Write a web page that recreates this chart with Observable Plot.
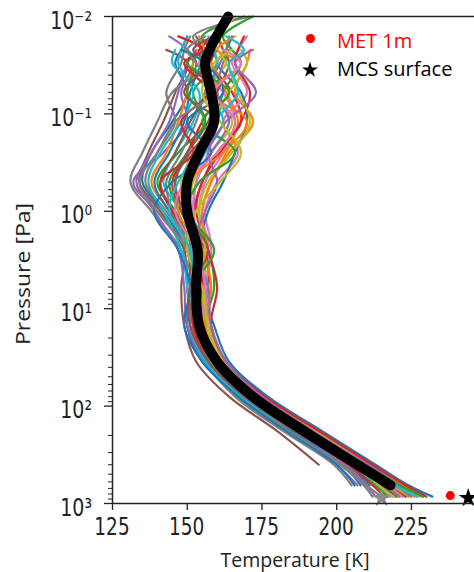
<!DOCTYPE html>
<html>
<head>
<meta charset="utf-8">
<script src="https://cdn.jsdelivr.net/npm/d3@7"></script>
<script src="https://cdn.jsdelivr.net/npm/@observablehq/plot@0.6"></script>
<style>
  html, body { margin: 0; padding: 0; background: #fff; overflow: hidden; }
  #chart svg { display: block; }
</style>
</head>
<body>
<div id="chart"></div>
<script>
// Pressure levels [Pa]
const pressure = [0.01, 0.016, 0.022, 0.03, 0.06, 0.12, 0.25, 0.5, 1, 2.5, 6, 15, 35, 80, 180, 400, 650, 850];

// Individual temperature profiles [K] at the levels above (null = no data)
const tempProfiles = [
  [null,150,148,146,150,145,138,135,142,150,151,150,156,168,185,202,208,null],
  [null,null,171,170,166,172,164,158,155,157,155,158,163,176,193,211,222,228],
  [169,155,158,160,152,156,147,140,146,152,154,153,158,170,186,204,213,217],
  [null,null,160,158,165,168,160,155,152,150,156,156,162,174,190,209,219,224],
  [null,144,150,152,148,150,142,132,140,149,150,152,157,169,185,200,207,null],
  [null,null,143,150,146,142,137,134,141,149,148,149,153,164,180,194,null,null],
  [null,170,167,165,170,162,167,160,156,158,152,157,162,173,190,208,217,221],
  [171,152,155,157,145,140,135,131,138,148,152,151,156,166,182,199,205,null],
  [166,161,162,163,157,165,158,152,151,153,158,154,159,172,190,209,219,225],
  [null,null,146,145,154,152,146,142,148,155,152,150,157,171,188,205,214,218],
  [null,165,163,160,168,170,166,162,157,154,155,159,164,177,195,213,224,232],
  [null,null,154,152,150,147,143,138,144,150,153,152,158,170,187,206,216,220],
  [172,162,165,168,162,160,155,150,150,157,159,156,161,173,191,209,218,223],
  [null,158,154,150,160,155,150,145,148,156,157,155,161,174,192,210,220,226],
  [null,null,164,162,160,164,158,153,152,151,154,157,163,175,192,211,221,227],
  [null,153,155,156,156,151,146,141,145,152,150,153,158,171,188,206,215,219],
  [null,null,157,154,162,166,162,156,154,158,156,155,160,172,189,207,216,222],
  [null,151,149,148,143,146,140,136,143,151,155,152,157,167,184,201,209,212],
  [null,null,168,170,164,158,152,148,149,155,154,156,162,175,193,210,220,229],
  [null,157,159,160,158,162,156,151,150,152,157,153,159,171,188,206,215,220],
  [null,null,159,155,151,149,144,139,144,153,151,150,155,168,185,203,211,null],
  [null,154,156,158,163,167,163,158,155,156,153,155,161,173,190,209,218,224],
  [null,null,150,153,150,156,150,144,147,150,153,154,159,170,186,204,213,217],
  [null,169,167,166,171,168,161,155,153,157,160,158,163,176,194,212,223,230],
  [null,null,153,150,147,144,138,133,139,147,149,150,156,169,186,203,210,213],
  [null,160,162,164,160,157,150,146,148,154,152,152,158,172,191,208,217,223],
  [null,null,153,155,158,160,157,153,152,155,156,157,162,174,189,205,214,218],
  [null,164,163,161,156,153,148,143,145,151,154,153,158,169,184,202,210,215],
  [null,null,160,163,167,171,165,157,154,156,155,156,161,173,190,209,219,226],
  [null,150,148,147,152,148,141,137,142,148,150,151,156,168,186,205,214,219],
  [null,null,148,156,162,150,158,145,139,147,151,149,155,167,183,200,206,null],
  [null,166,160,168,158,170,162,150,147,155,158,156,160,171,188,206,216,221],
  [null,null,158,150,164,155,166,154,150,159,152,154,159,172,190,210,221,229],
  [null,147,155,149,157,148,152,141,145,153,155,152,158,170,187,204,212,216],
  [null,null,172,166,173,163,157,160,156,152,157,158,163,175,192,210,220,225],
  [null,159,152,157,149,160,151,146,149,157,151,151,157,169,186,205,215,220],
  [null,null,162,168,159,166,160,149,146,153,156,155,160,173,191,209,217,222],
  [null,156,150,153,158,146,140,134,140,150,154,153,158,171,189,207,216,221],
  [null,null,165,159,155,161,168,161,153,150,155,157,162,174,190,207,214,219],
  [null,163,169,164,167,159,153,147,144,151,152,154,160,172,189,208,219,227]
];

// Mean profile [K]
const meanTemp = [163.7,159.8,157.5,156,158,159,154,150,150,153.5,153,154,160,172,189,207,218,null];

// Surface points
const metPoint = [{T: 238, P: 830}];
const mcsPoint = [{T: 244, P: 880}];
const mcsGrey  = [{T: 215, P: 880}];

// Ticks
const xTicks = [125, 150, 175, 200, 225];
const xTickLabels = ["125", "150", "175", "200", "225"];
const yTicks = [0.01, 0.1, 1, 10, 100, 1000];
const yTickLabels = ["10\u207B\u00B2", "10\u207B\u00B9", "10\u2070", "10\u00B9", "10\u00B2", "10\u00B3"];
const yMinorTicks = [];
for (const base of [0.01, 0.1, 1, 10, 100]) for (let m = 2; m <= 9; m++) yMinorTicks.push(+(m * base).toPrecision(3));

const legendLabels = ["MET 1m", "MCS surface"];
const xTitle = "Temperature [K]";
const yTitle = "Pressure [Pa]";

const tab10 = ["#1f77b4","#ff7f0e","#2ca02c","#d62728","#9467bd","#8c564b","#e377c2","#7f7f7f","#bcbd22","#17becf"];

const rows = [];
tempProfiles.forEach((prof, i) => prof.forEach((t, j) => rows.push({id: i, T: t, P: pressure[j], color: tab10[i % 10]})));
const meanRows = meanTemp.map((t, j) => ({T: t, P: pressure[j]}));

const W = 474, H = 572, mL = 112, mT = 16, mB = 69;

const plot = Plot.plot({
  width: W, height: H,
  marginLeft: mL, marginRight: 0, marginTop: mT, marginBottom: mB,
  style: {fontFamily: "DejaVu Sans", fontSize: "19px", color: "#222", background: "#fff"},
  x: {domain: [125, 246.1]},
  y: {type: "log", domain: [0.01, 1000], reverse: true},
  marks: [
    Plot.line(rows, {x: "T", y: "P", z: "id", stroke: "color", strokeWidth: 2.2, curve: "catmull-rom"}),
    Plot.line(meanRows, {x: "T", y: "P", stroke: "#000", strokeWidth: 10, curve: "catmull-rom"}),
    Plot.dot(mcsGrey, {x: "T", y: "P", symbol: "star", r: 6, fill: "#8a8a8a"}),
    Plot.dot(metPoint, {x: "T", y: "P", r: 4.5, fill: "#ff0000"}),
    Plot.dot(mcsPoint, {x: "T", y: "P", symbol: "star", r: 6, fill: "#000"}),
    Plot.ruleY([0.01], {stroke: "#222", strokeWidth: 1.5}),
    Plot.ruleY([1000], {stroke: "#222", strokeWidth: 1.5}),
    Plot.ruleX([125], {stroke: "#222", strokeWidth: 1.5}),
    Plot.axisX({ticks: xTicks, tickSize: 7, tickFormat: () => "", label: null, stroke: "#222", strokeWidth: 1.3}),
    Plot.axisY({ticks: yMinorTicks, tickSize: 4, tickFormat: () => "", label: null, stroke: "#222"}),
    Plot.axisY({ticks: yTicks, tickSize: 8, tickFormat: () => "", label: null, stroke: "#222", strokeWidth: 1.3})
  ]
});

const svg = d3.select(plot);
const sx = plot.scale("x"), sy = plot.scale("y");

// Tick labels (DejaVu Sans, vertically stretched like the reference)
xTicks.forEach((v, i) => {
  svg.append("text")
    .attr("transform", `translate(${sx.apply(v)},535) scale(1,1.3)`)
    .attr("text-anchor", "middle").attr("font-family", "DejaVu Sans").attr("font-size", 18.5)
    .attr("fill", "#222").text(xTickLabels[i]);
});
yTicks.forEach((v, i) => {
  svg.append("text")
    .attr("transform", `translate(92,${sy.apply(v) + 12.5}) scale(1,1.3)`)
    .attr("text-anchor", "end").attr("font-family", "DejaVu Sans").attr("font-size", 19)
    .attr("fill", "#222").text(yTickLabels[i]);
});

// Axis titles
svg.append("text").attr("x", 295).attr("y", 567).attr("text-anchor", "middle")
  .attr("font-family", "Open Sans").attr("font-size", 19.5).attr("fill", "#222").text(xTitle);
svg.append("text").attr("transform", "translate(30,274) scale(1,1.15) rotate(-90)").attr("text-anchor", "middle")
  .attr("font-family", "Open Sans").attr("font-size", 20).attr("fill", "#222").text(yTitle);

// Legend
svg.append("circle").attr("cx", 310.5).attr("cy", 38.5).attr("r", 4.5).attr("fill", "#ff0000");
svg.append("text").attr("x", 337).attr("y", 48).attr("text-anchor", "start").attr("font-family", "Open Sans")
  .attr("font-size", 20).attr("fill", "#ff0000").text(legendLabels[0]);
svg.append("path").attr("d", d3.symbol(d3.symbolStar, 80)()).attr("transform", "translate(310,70)").attr("fill", "#000");
svg.append("text").attr("x", 337).attr("y", 76).attr("text-anchor", "start").attr("font-family", "Open Sans")
  .attr("font-size", 20).attr("fill", "#000").text(legendLabels[1]);

document.getElementById("chart").appendChild(plot);
</script>
</body>
</html>
